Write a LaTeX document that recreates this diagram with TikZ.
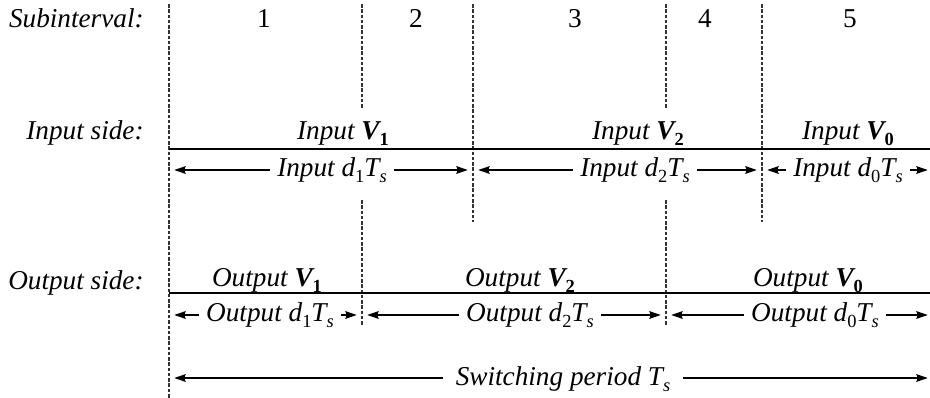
\documentclass[tikz,border=0pt]{standalone}
\usepackage{fontspec}
\setmainfont{Liberation Serif}
\usetikzlibrary{arrows.meta}

% lowered small index, as in the printed formulas
\newcommand{\idx}[1]{\raisebox{-3.3pt}{\fontsize{10.5}{12}\selectfont #1}}
\newcommand{\Vb}[1]{\textbf{\textit{V}}\idx{\upshape\bfseries #1}}
\newcommand{\dT}[1]{\textit{d}\idx{\upshape #1}\textit{T}\idx{\itshape s}}

\tikzset{
	lbl/.style={font=\fontsize{15.5}{18}\selectfont\itshape, inner sep=0pt, anchor=base},
	rowlbl/.style={lbl, anchor=base east},
	num/.style={font=\fontsize{15.5}{18}\selectfont, inner sep=0pt, anchor=base},
	dimlbl/.style={lbl, inner xsep=4pt},
	bound/.style={draw=black!80, line width=0.6pt, dash pattern=on 2pt off 1pt},
	bar/.style={line width=1.3pt},
	dim/.style={-{Stealth[length=6.5pt,width=4.4pt,inset=0.8pt]}, line width=0.6pt, shorten >=3pt},
}

\begin{document}
\begin{tikzpicture}[x=0.02cm, y=-0.02cm]
			%%%%% START %%%%%
			\useasboundingbox (0,0) rectangle (930,398);
			
			% boundaries of the subintervals
			\coordinate (b0) at (169,4);
			\coordinate (b1) at (362,4);
			\coordinate (b2) at (473,4);
			\coordinate (b3) at (666,4);
			\coordinate (b4) at (762,4);
			\coordinate (bR) at (933,4);
			
			% rows of the dimension arrows
			\coordinate (rin) at (0,170);
			\coordinate (rout) at (0,315);
			\coordinate (rsw) at (0,378);
			
			\draw[bound] (b0) -- (169,398);
			\draw[bound] (b1) -- (362,109);
			\draw[bound] (362,200) -- (362,326);
			\draw[bound] (b2) -- (473,222);
			\draw[bound] (b3) -- (666,109);
			\draw[bound] (666,200) -- (666,326);
			\draw[bound] (b4) -- (762,222);
			
			% row titles
			\node[rowlbl] (tsub) at (144,28) {Subinterval:};
			\node[rowlbl] (tin) at (144,140) {Input side:};
			\node[rowlbl] (tout) at (144,290) {Output side:};
			
			\node[num] (n1) at (264,28) {1};
			\node[num] (n2) at (416,28) {2};
			\node[num] (n3) at (575,28) {3};
			\node[num] (n4) at (705,28) {4};
			\node[num] (n5) at (850,28) {5};
			
			% input side
			\draw[bar] (169,149) -- (930,149);
			\node[lbl] (inV1) at (343,140) {Input \Vb{1}};
			\node[lbl] (inV2) at (638,140) {Input \Vb{2}};
			\node[lbl] (inV0) at (848,140) {Input \Vb{0}};
			
			\node[dimlbl] (ind1) at (332,177) {Input \dT{1}};
			\node[dimlbl] (ind2) at (635,177) {Input \dT{2}};
			\node[dimlbl] (ind0) at (848,177) {Input \dT{0}};
			\draw[dim] (ind1.west |- rin) -- (b0 |- rin);
			\draw[dim] (ind1.east |- rin) -- (b2 |- rin);
			\draw[dim] (ind2.west |- rin) -- (b2 |- rin);
			\draw[dim] (ind2.east |- rin) -- (b4 |- rin);
			\draw[dim] (ind0.west |- rin) -- (b4 |- rin);
			\draw[dim] (ind0.east |- rin) -- (bR |- rin);
			
			% output side
			\draw[bar] (169,293) -- (930,293);
			\node[lbl] (outV1) at (267,287) {Output \Vb{1}};
			\node[lbl] (outV2) at (520,287) {Output \Vb{2}};
			\node[lbl] (outV0) at (808,287) {Output \Vb{0}};
			
			\node[dimlbl] (outd1) at (270,322) {Output \dT{1}};
			\node[dimlbl] (outd2) at (530,322) {Output \dT{2}};
			\node[dimlbl] (outd0) at (815,322) {Output \dT{0}};
			\draw[dim] (outd1.west |- rout) -- (b0 |- rout);
			\draw[dim] (outd1.east |- rout) -- (b1 |- rout);
			\draw[dim] (outd2.west |- rout) -- (b1 |- rout);
			\draw[dim] (outd2.east |- rout) -- (b3 |- rout);
			\draw[dim] (outd0.west |- rout) -- (b3 |- rout);
			\draw[dim] (outd0.east |- rout) -- (bR |- rout);
			
			% whole period
			\node[dimlbl, inner xsep=7pt] (sw) at (563,386) {Switching period \textit{T}\idx{\itshape s}};
			\draw[dim] (sw.west |- rsw) -- (b0 |- rsw);
			\draw[dim] (sw.east |- rsw) -- (bR |- rsw);
			%%%%% END %%%%%
\end{tikzpicture}
\end{document}
